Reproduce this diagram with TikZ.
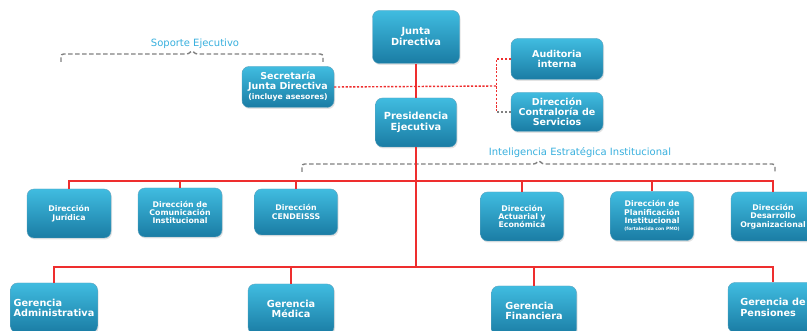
\documentclass[tikz,border=0pt]{standalone}
\usepackage{fontspec}
\setmainfont{DejaVu Sans}
\usetikzlibrary{arrows.meta, positioning, calc, shadows}
\definecolor{boxtop}{RGB}{64,188,224}
\definecolor{boxbot}{RGB}{26,124,164}
\definecolor{lnred}{RGB}{238,46,46}
\definecolor{lblblue}{RGB}{56,176,222}
\definecolor{brgray}{RGB}{128,128,128}

\begin{document}
\begin{tikzpicture}[
        x=1pt, y=-1pt,
        unit/.style={rounded corners=7pt, top color=boxtop, bottom color=boxbot, draw=boxbot!70!white,
            line width=0.4pt, text=white, align=center, inner sep=2pt,
            drop shadow={opacity=0.22, shadow xshift=1pt, shadow yshift=-1.5pt}},
        topu/.style={unit, font=\bfseries\fontsize{9.8}{11}\selectfont},
        side/.style={unit, minimum width=92pt, minimum height=41pt, font=\bfseries\fontsize{9.5}{10}\selectfont},
        dir/.style={unit, minimum width=84pt, minimum height=49pt, font=\bfseries\fontsize{7.8}{8.4}\selectfont},
        ger/.style={unit, align=left, minimum width=86pt, minimum height=50pt, font=\bfseries\fontsize{9.7}{10.5}\selectfont},
        org/.style={draw=lnred, line width=1.6pt},
        rdash/.style={draw=lnred, line width=1.4pt, dash pattern=on 2.2pt off 1.6pt},
        gdash/.style={draw=brgray, line width=1.4pt, dash pattern=on 2.2pt off 1.6pt},
        lbl/.style={text=lblblue, font=\fontsize{10}{12}\selectfont},
        brc/.style={draw=brgray, line width=1.4pt, dash pattern=on 4.5pt off 2.5pt, rounded corners=2.5pt}
    ]
        \fill[white] (0,0) rectangle (807,331);
        \useasboundingbox (0,0) rectangle (807,331);

        %=================== Junta y Presidencia ===================
        \node[topu, minimum width=87pt, minimum height=53pt] (junta) at (416,37) {Junta\\Directiva};
        \node[topu, minimum width=81pt, minimum height=49pt] (presi) at (416,122.5) {Presidencia\\Ejecutiva};
        \node[side] (secre) at (288,87) {Secretaría\\Junta Directiva\\{\fontsize{7.7}{10}\selectfont(incluye asesores)}};
        \node[side] (audit) at (557,59) {Auditoria\\interna};
        \node[side, minimum height=39pt] (contra) at (557,112) {Dirección\\Contraloría de\\Servicios};

        % staff (punteado)
        \coordinate (jx) at (496.5,86);
        \draw[rdash] (secre.east) -- (jx);
        \draw[rdash] (audit.west) -| (jx |- contra.west);
        \draw[gdash] (contra.west) -- (jx |- contra.west);

        % soporte ejecutivo
        \coordinate (sL) at (61,62);
        \coordinate (sR) at (323,62);
        \draw[brc] (sL) -- (61,54) -- (189,54) -- (192,50) -- (195,54) -- (323,54) -- (sR);
        \node[lbl] (sopo) at (195,44) {Soporte Ejecutivo};

        %=================== Direcciones ===================
        \node[dir] (dJur) at (69,213.5) {Dirección\\Jurídica};
        \node[dir] (dCom) at (180,212.5) {Dirección de\\Comunicación\\Institucional};
        \node[dir, minimum width=83pt, minimum height=46pt] (dCen) at (296,212) {Dirección\\CENDEISSS};
        \node[dir, minimum width=83pt] (dAct) at (522,216.5) {Dirección\\Actuarial y\\Económica};
        \node[dir, minimum width=83pt] (dPla) at (652,216) {Dirección de\\Planificación\\Institucional\\[-1pt]{\fontsize{4.5}{5}\selectfont(fortalecida con PMO)}};
        \node[dir] (dDes) at (773,216.5) {Dirección\\Desarrollo\\Organizacional};

        \coordinate (dirbar) at (416,181);
        \draw[org] (dJur.north) |- (dirbar) -| (dDes.north);
        \foreach \nd in {dCom, dCen, dAct, dPla}
            \draw[org] (\nd.north) -- (\nd.north |- dirbar);

        % inteligencia estrategica
        \coordinate (iL) at (302,172);
        \coordinate (iR) at (775,172);
        \draw[brc] (iL) -- (302,164) -- (536,164) -- (539,160) -- (542,164) -- (775,164) -- (iR);
        \node[lbl] (intel) at (580,153) {Inteligencia Estratégica Institucional};

        %=================== Gerencias ===================
        \node[ger, minimum width=87pt] (gAdm) at (54,308) {Gerencia\\Administrativa};
        \node[ger, align=center] (gMed) at (291,309) {Gerencia\\Médica};
        \node[ger, minimum width=85pt] (gFin) at (534,311) {Gerencia\\Financiera};
        \node[ger, minimum width=90pt] (gPen) at (773,307.5) {Gerencia de\\Pensiones};

        \coordinate (gerbar) at (416,267);
        \draw[org] (gAdm.north) |- (gerbar) -| (gPen.north);
        \foreach \ng in {gMed, gFin}
            \draw[org] (\ng.north) -- (\ng.north |- gerbar);

        % linea principal
        \draw[org] (junta) -- (presi);
        \draw[org] (presi) -- (gerbar);
    \end{tikzpicture}
\end{document}
